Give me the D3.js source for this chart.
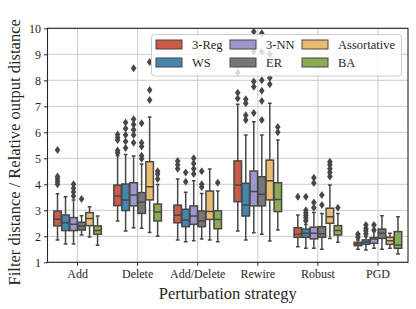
<!DOCTYPE html>
<html>
<head>
<meta charset="utf-8">
<script src="https://cdn.jsdelivr.net/npm/d3@7"></script>
<style>
  body { margin: 0; background: #fff; }
  svg text { font-family: "Liberation Serif", "DejaVu Serif", serif; fill: #262626; }
</style>
</head>
<body>
<div id="chart"></div>
<script>
//categories on the x axis and the graph types (hues)
var strategies = ["Add", "Delete", "Add/Delete", "Rewire", "Robust", "PGD"];
var graphs = ["3-Reg", "WS", "3-NN", "ER", "Assortative", "BA"];
var yTicks = [1, 2, 3, 4, 5, 6, 7, 8, 9, 10];

//box stats per strategy: [whisker low, q1, median, q3, whisker high]
var reg3 = [[1.86, 2.40, 2.66, 2.97, 3.64], [2.59, 3.18, 3.55, 3.97, 5.10], [1.86, 2.52, 2.81, 3.20, 4.20],
            [2.20, 3.33, 3.97, 4.90, 7.08], [1.60, 1.96, 2.08, 2.33, 2.82], [1.50, 1.64, 1.70, 1.77, 1.86]];
var ws = [[1.70, 2.22, 2.52, 2.82, 3.52], [2.20, 2.99, 3.40, 4.01, 5.15], [1.79, 2.37, 2.63, 3.04, 3.69],
          [1.86, 2.78, 3.20, 4.04, 5.90], [1.54, 1.96, 2.12, 2.28, 2.45], [1.47, 1.69, 1.77, 1.86, 1.98]];
var nn3 = [[1.70, 2.22, 2.46, 2.72, 3.40], [2.33, 3.17, 3.59, 4.06, 5.09], [1.83, 2.46, 2.78, 3.17, 4.14],
           [2.14, 3.17, 3.72, 4.51, 6.41], [1.54, 1.90, 2.12, 2.35, 2.92], [1.54, 1.73, 1.90, 1.95, 2.18]];
var er = [[2.05, 2.24, 2.40, 2.54, 2.79], [2.31, 2.88, 3.31, 3.68, 4.78], [1.90, 2.37, 2.59, 2.97, 3.65],
          [2.08, 3.17, 3.62, 4.29, 5.90], [1.50, 1.96, 2.09, 2.37, 2.88], [1.50, 1.92, 2.12, 2.28, 2.79]];
var assort = [[1.97, 2.41, 2.68, 2.91, 3.14], [2.15, 3.40, 3.91, 4.87, 6.59], [1.86, 2.65, 2.95, 3.74, 4.59],
              [1.82, 3.40, 4.14, 4.93, 7.12], [1.92, 2.50, 2.75, 3.08, 3.97], [1.54, 1.69, 1.83, 1.96, 2.12]];
var ba = [[1.66, 2.08, 2.22, 2.40, 2.78], [2.00, 2.59, 2.93, 3.24, 3.99], [1.79, 2.29, 2.65, 2.98, 3.74],
          [2.24, 2.95, 3.42, 4.06, 5.70], [1.77, 2.05, 2.22, 2.41, 2.88], [1.32, 1.54, 1.67, 2.18, 2.75]];

//outliers per strategy
var reg3Out = [[5.32, 4.3, 4.2, 4.1, 4.0], [5.92, 5.8, 5.7, 5.3, 5.2], [4.9, 4.75, 4.6], [8.3, 7.52, 7.3], [3.52], [2.08, 1.96]];
var wsOut = [[], [6.38, 6.15, 5.9, 5.65, 5.4], [4.45, 4.1], [7.27, 7.12, 6.66, 6.47], [3.52, 3.0, 2.9, 2.8, 2.7, 2.6], [2.43, 2.3, 2.2, 2.1]];
var nn3Out = [[4.0, 3.85, 3.7, 3.55], [8.46, 6.5, 6.3, 6.1, 5.9, 5.6], [5.0, 4.8, 4.6, 4.4], [9.87, 9.1, 7.95, 7.75, 6.74], [4.25, 4.05, 3.3, 3.1], [2.43, 2.24]];
var erOut = [[3.43], [6.35, 5.6, 5.45, 5.1, 4.98], [4.5, 4.0, 3.9], [9.81, 9.1, 8.0, 7.6, 7.2, 6.47], [3.59, 3.2], []];
var assortOut = [[], [8.7, 7.63, 7.24], [], [9.0, 8.1, 7.85], [4.87, 4.75, 4.6, 4.45, 4.3], []];
var baOut = [[], [4.5, 4.4, 4.2], [4.06], [6.2, 6.0], [3.1], []];

var statsBySeries = [reg3, ws, nn3, er, assort, ba];
var outBySeries = [reg3Out, wsOut, nn3Out, erOut, assortOut, baOut];
var baseColors = ["#E24A33", "#348ABD", "#988ED5", "#777777", "#FBC15E", "#8EBA42"];

//seaborn style desaturation of the box colours
var colors = baseColors.map(function(c) {
    var h = d3.hsl(c);
    h.s = h.s * 0.75;
    return h.formatHex();
});
var lineColor = "#474747";

var svgWidth = 416, svgHeight = 309;
var margin = {top: 28.3, right: 8, bottom: 46.7, left: 47.5};
var width = svgWidth - margin.left - margin.right;
var height = svgHeight - margin.top - margin.bottom;

var svg = d3.select("#chart").append("svg")
    .attr("width", svgWidth)
    .attr("height", svgHeight);

var g = svg.append("g")
    .attr("transform", `translate(${margin.left}, ${margin.top})`);

var xScale = d3.scaleBand().domain(strategies).range([0, width]).padding(0);
var hueScale = d3.scaleBand().domain(graphs).range([0, xScale.bandwidth() * 0.8]);
var yScale = d3.scaleLinear().domain([1, 10]).range([height, 0]);

//grid lines
g.append("g").selectAll("line.hgrid")
    .data(yTicks)
    .enter().append("line")
    .attr("x1", 0).attr("x2", width)
    .attr("y1", d => yScale(d)).attr("y2", d => yScale(d))
    .attr("stroke", "#cbcbcb").attr("stroke-width", 1);
g.append("g").selectAll("line.vgrid")
    .data(strategies)
    .enter().append("line")
    .attr("x1", d => xScale(d) + xScale.bandwidth() / 2)
    .attr("x2", d => xScale(d) + xScale.bandwidth() / 2)
    .attr("y1", 0).attr("y2", height)
    .attr("stroke", "#cbcbcb").attr("stroke-width", 1);

//clip so that outliers stay inside the axes
svg.append("defs").append("clipPath").attr("id", "plotClip")
    .append("rect").attr("width", width).attr("height", height);

var plot = g.append("g").attr("clip-path", "url(#plotClip)");
var boxW = hueScale.bandwidth() * 0.94;

graphs.forEach(function(name, si) {
    strategies.forEach(function(strat, ci) {
        var s = statsBySeries[si][ci];
        var cx = xScale(strat) + xScale.bandwidth() * 0.1 + hueScale(name) + hueScale.bandwidth() / 2;
        var grp = plot.append("g");
        //whiskers
        grp.append("line")
            .attr("x1", cx).attr("x2", cx)
            .attr("y1", yScale(s[0])).attr("y2", yScale(s[1]))
            .attr("stroke", lineColor).attr("stroke-width", 1.5);
        grp.append("line")
            .attr("x1", cx).attr("x2", cx)
            .attr("y1", yScale(s[3])).attr("y2", yScale(s[4]))
            .attr("stroke", lineColor).attr("stroke-width", 1.5);
        //caps
        [s[0], s[4]].forEach(function(v) {
            grp.append("line")
                .attr("x1", cx - boxW / 4).attr("x2", cx + boxW / 4)
                .attr("y1", yScale(v)).attr("y2", yScale(v))
                .attr("stroke", lineColor).attr("stroke-width", 1.5);
        });
        //box
        grp.append("rect")
            .attr("x", cx - boxW / 2)
            .attr("y", yScale(s[3]))
            .attr("width", boxW)
            .attr("height", yScale(s[1]) - yScale(s[3]))
            .attr("fill", colors[si])
            .attr("stroke", lineColor).attr("stroke-width", 1.5);
        //median
        grp.append("line")
            .attr("x1", cx - boxW / 2).attr("x2", cx + boxW / 2)
            .attr("y1", yScale(s[2])).attr("y2", yScale(s[2]))
            .attr("stroke", lineColor).attr("stroke-width", 1.5);
        //outliers as thin diamonds
        grp.selectAll("path.flier")
            .data(outBySeries[si][ci])
            .enter().append("path")
            .attr("d", d => `M${cx},${yScale(d) - 4}L${cx + 2.8},${yScale(d)}L${cx},${yScale(d) + 4}L${cx - 2.8},${yScale(d)}Z`)
            .attr("fill", lineColor);
    });
});

//axes
var leftAxis = d3.axisLeft(yScale).tickValues(yTicks).tickSize(3.5).tickPadding(3);
var bottomAxis = d3.axisBottom(xScale).tickSize(3.5).tickPadding(4);

var yAxisG = g.append("g").call(leftAxis);
var xAxisG = g.append("g").attr("transform", `translate(0, ${height})`).call(bottomAxis);
[yAxisG, xAxisG].forEach(function(a) {
    a.select(".domain").remove();
    a.selectAll(".tick line").attr("stroke", "#262626").attr("stroke-width", 1);
    a.selectAll(".tick text").style("font-size", "12px").attr("fill", "#262626");
});

//frame around the plot
g.append("rect")
    .attr("width", width).attr("height", height)
    .attr("fill", "none").attr("stroke", "#262626").attr("stroke-width", 1.1);

//axis titles
g.append("text")
    .attr("x", width / 2).attr("y", height + 37)
    .attr("text-anchor", "middle")
    .style("font-size", "16.5px")
    .text("Perturbation strategy");
svg.append("text")
    .attr("transform", `translate(20, ${margin.top + height / 2 + 7}) rotate(-90)`)
    .attr("text-anchor", "middle")
    .style("font-size", "16.5px")
    .text("Filter distance / Relative output distance");

//legend in three columns of two rows
var legend = svg.append("g").attr("transform", "translate(151.5, 34.5)");
legend.append("rect")
    .attr("width", 250).attr("height", 41.5)
    .attr("rx", 3).attr("ry", 3)
    .attr("fill", "white").attr("fill-opacity", 0.8)
    .attr("stroke", "#cccccc").attr("stroke-width", 1);

var colX = [4.5, 78.5, 150.5];
var rowY = [5.5, 23.5];
var items = legend.selectAll("g.item")
    .data(graphs)
    .enter().append("g")
    .attr("transform", (d, i) => `translate(${colX[Math.floor(i / 2)]}, ${rowY[i % 2]})`);
items.append("rect")
    .attr("width", 26).attr("height", 9)
    .attr("fill", (d, i) => colors[i])
    .attr("stroke", lineColor).attr("stroke-width", 1);
items.append("text")
    .attr("x", 36).attr("y", 8.5)
    .style("font-size", "12.5px")
    .text(d => d);
</script>
</body>
</html>
